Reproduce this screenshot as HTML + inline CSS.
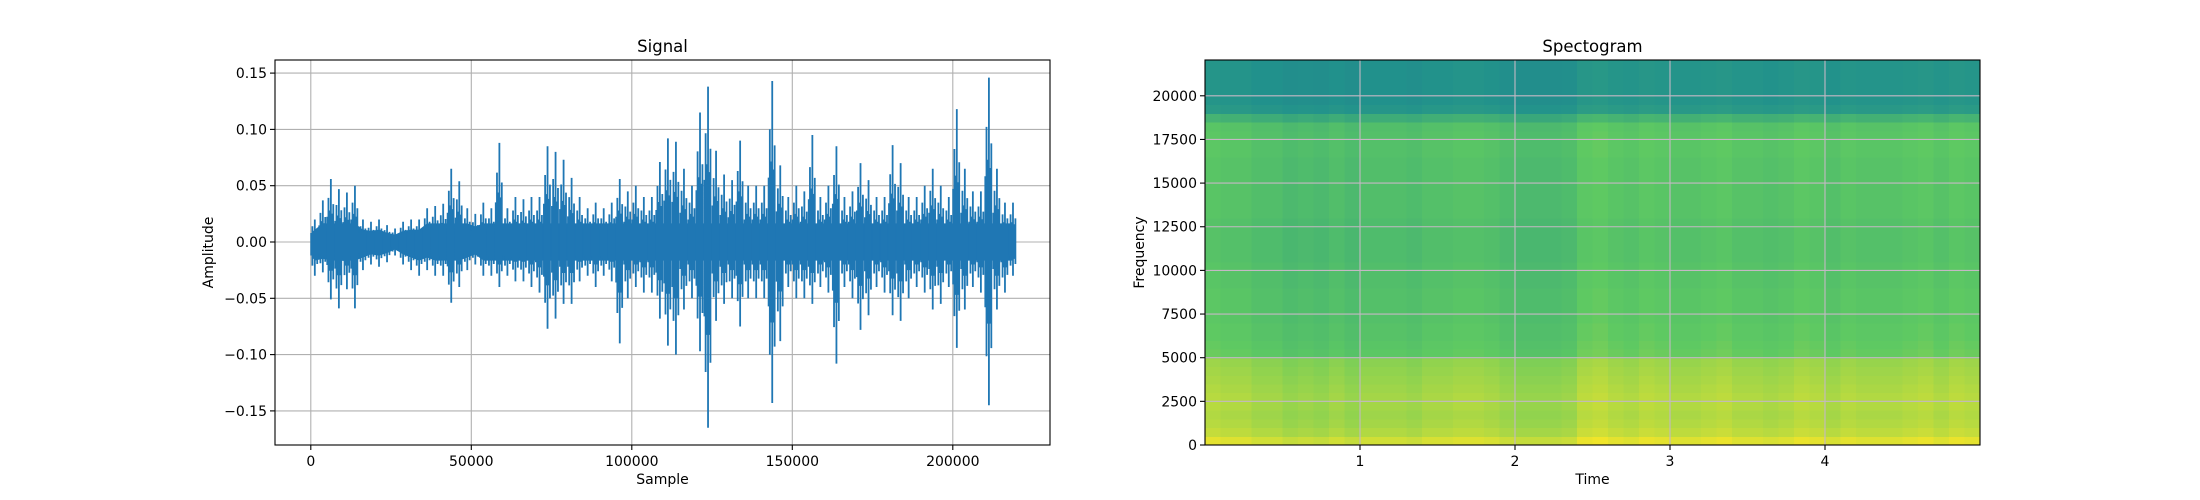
<!DOCTYPE html>
<html><head><meta charset="utf-8"><style>
html,body{margin:0;padding:0;background:#fff}
svg{display:block}
text{font-family:"DejaVu Sans","Liberation Sans",sans-serif;fill:#000}
</style></head><body>
<svg id="fig" width="2200" height="500" viewBox="0 0 2200 500" xmlns="http://www.w3.org/2000/svg">
<rect width="2200" height="500" fill="#fff"/>
<g id="sig"></g>
<g id="spec"></g>
</svg>
<script>
// ---------- Signal data (bins of 2500 samples) ----------
const binSize = 2500;
const sigMax = [0.02,0.037,0.056,0.047,0.044,0.05,0.02,0.018,0.02,0.015,0.012,0.018,0.02,0.02,0.03,0.032,0.034,0.065,0.054,0.03,
0.025,0.035,0.03,0.088,0.03,0.04,0.038,0.04,0.04,0.085,0.08,0.073,0.057,0.04,0.03,0.035,0.03,0.035,0.056,0.045,
0.05,0.04,0.04,0.071,0.092,0.089,0.065,0.05,0.115,0.138,0.081,0.06,0.055,0.09,0.05,0.05,0.05,0.143,0.068,0.04,
0.05,0.045,0.095,0.04,0.05,0.085,0.04,0.045,0.07,0.055,0.04,0.04,0.086,0.07,0.04,0.04,0.05,0.065,0.05,0.04,
0.118,0.065,0.045,0.045,0.146,0.065,0.035,0.035];
const sigMin = [-0.03,-0.027,-0.051,-0.059,-0.042,-0.059,-0.025,-0.02,-0.022,-0.018,-0.012,-0.02,-0.025,-0.03,-0.025,-0.03,-0.03,-0.054,-0.04,-0.025,
-0.02,-0.03,-0.03,-0.04,-0.03,-0.035,-0.035,-0.04,-0.045,-0.077,-0.068,-0.055,-0.055,-0.035,-0.03,-0.04,-0.03,-0.035,-0.09,-0.05,
-0.04,-0.045,-0.045,-0.068,-0.092,-0.1,-0.06,-0.05,-0.097,-0.165,-0.07,-0.055,-0.05,-0.075,-0.05,-0.05,-0.05,-0.143,-0.088,-0.04,
-0.05,-0.05,-0.055,-0.04,-0.045,-0.108,-0.04,-0.05,-0.078,-0.065,-0.04,-0.045,-0.065,-0.07,-0.05,-0.04,-0.045,-0.06,-0.055,-0.04,
-0.094,-0.06,-0.04,-0.045,-0.145,-0.06,-0.045,-0.03];
const sigXTicks = [0,50000,100000,150000,200000];
const sigXLabels = ["0","50000","100000","150000","200000"];
const sigYTicks = [-0.15,-0.10,-0.05,0.00,0.05,0.10,0.15];
const sigYLabels = ["\u22120.15","\u22120.10","\u22120.05","0.00","0.05","0.10","0.15"];

// ---------- Spectrogram data ----------
const specFreqStep = 500;
const specTimeStep = 0.1;
const freqLevel = [0.93,0.88,0.86,0.85,0.86,0.86,0.85,0.84,0.83,0.82,
0.74,0.73,0.72,0.72,0.71,0.71,0.71,0.71,0.7,0.7,0.7,0.69,0.69,0.69,0.69,0.69,0.7,0.7,0.7,0.7,0.7,0.7,0.7,0.71,0.71,0.71,0.7,0.62,
0.52,0.5,0.5,0.5,0.5,0.5,0.5];
const timeLevel = [0.03,0.02,0.02,0.0,0.0,-0.02,-0.01,-0.02,0.0,-0.02,
0.0,0.0,0.0,-0.01,0.01,0.01,0.02,0.02,0.01,-0.01,
-0.02,-0.02,-0.02,-0.01,0.04,0.05,0.03,0.02,0.04,0.03,
0.02,0.02,0.03,0.04,0.02,0.02,0.01,0.02,0.04,0.03,
0.01,0.03,0.02,0.02,0.02,0.03,0.04,0.02,0.04,0.03];
const specXTicks = [1,2,3,4];
const specYTicks = [0,2500,5000,7500,10000,12500,15000,17500,20000];

const NS='http://www.w3.org/2000/svg';
function mk(tag, attrs, parent){const e=document.createElementNS(NS,tag);for(const k in attrs)e.setAttribute(k,attrs[k]);parent.appendChild(e);return e;}

// ===== Signal chart =====
(function(){
const g=document.getElementById('sig');
const L=275,R=1050,T=60,B=445;
const xs=v=>310.8+(v/50000)*160.5;
const ys=v=>242-(v/0.05)*56.3;
sigXTicks.forEach((t,i)=>{
  const l=mk('line',{x1:xs(t),x2:xs(t),y1:T,y2:B,stroke:'#b0b0b0','stroke-width':1.1},g);
  
  
  mk('line',{x1:xs(t),x2:xs(t),y1:B,y2:B+5,stroke:'#000','stroke-width':1.1},g);
  const tx=mk('text',{x:xs(t),y:B+21,'font-size':14,'text-anchor':'middle'},g);
  tx.textContent=sigXLabels[i];
  
  
});
sigYTicks.forEach((t,i)=>{
  const l=mk('line',{x1:L,x2:R,y1:ys(t),y2:ys(t),stroke:'#b0b0b0','stroke-width':1.1},g);
  
  
  mk('line',{x1:L-5,x2:L,y1:ys(t),y2:ys(t),stroke:'#000','stroke-width':1.1},g);
  const tx=mk('text',{x:L-8,y:ys(t)+5,'font-size':14,'text-anchor':'end'},g);
  tx.textContent=sigYLabels[i];
  
  
});
let top=[],bot=[];
sigMax.forEach((v,i)=>{const xm=xs((i+0.5)*binSize);const c=Math.min(v,0.03)*0.55;top.push(xm+','+ys(c));});
sigMin.forEach((v,i)=>{const xm=xs((i+0.5)*binSize);const c=Math.max(v,-0.03)*0.55;bot.push(xm+','+ys(c));});
const core=mk('polygon',{points:top.concat(bot.reverse()).join(' '),fill:'#1f77b4'},g);


let d='';
sigMax.forEach((v,i)=>{
  const x0=xs(i*binSize), w=xs(binSize)-xs(0);
  const mn=sigMin[i];
  d+='M'+(x0+w*0.5)+','+ys(v)+'V'+ys(mn);
  d+='M'+(x0+w*0.2)+','+ys(v*0.7)+'V'+ys(mn*0.7);
  d+='M'+(x0+w*0.8)+','+ys(v*0.6)+'V'+ys(mn*0.65);
  d+='M'+(x0+w*0.35)+','+ys(v*0.5)+'V'+ys(mn*0.5);
  d+='M'+(x0+w*0.65)+','+ys(v*0.45)+'V'+ys(mn*0.5);
  d+='M'+(x0+w*0.05)+','+ys(v*0.4)+'V'+ys(mn*0.4);
});
const p=mk('path',{d:d,stroke:'#1f77b4','stroke-width':1.8,fill:'none'},g);


const fr=mk('rect',{x:L,y:T,width:R-L,height:B-T,fill:'none',stroke:'#000','stroke-width':1.1},g);


const ti=mk('text',{x:(L+R)/2,y:52,'font-size':16.5,'text-anchor':'middle'},g);ti.textContent='Signal';


const xl=mk('text',{x:(L+R)/2,y:484,'font-size':14,'text-anchor':'middle'},g);xl.textContent='Sample';


const yl=mk('text',{x:0,y:0,'font-size':14,'text-anchor':'middle',transform:'translate(213,'+(T+B)/2+') rotate(-90)'},g);yl.textContent='Amplitude';


})();

// ===== Spectrogram =====
(function(){
const g=document.getElementById('spec');
const L=1205,R=1980,T=60,B=445;
const xs=v=>L+(v/5)*(R-L);
const ys=v=>B-(v/22050)*(B-T);
const stops=[[0,[68,1,84]],[0.25,[59,82,139]],[0.5,[33,145,140]],[0.75,[94,201,98]],[1,[253,231,37]]];
function vir(t){t=Math.max(0,Math.min(1,t));for(let i=0;i<stops.length-1;i++){const a=stops[i],b=stops[i+1];if(t<=b[0]){const f=(t-a[0])/(b[0]-a[0]);return 'rgb('+a[1].map((c,k)=>Math.round(c+(b[1][k]-c)*f)).join(',')+')';}}return 'rgb(253,231,37)';}
const cells=mk('g',{'shape-rendering':'crispEdges'},g);


freqLevel.forEach((fv,r)=>{
  const f0=r*specFreqStep, f1=Math.min(22050,(r+1)*specFreqStep);
  timeLevel.forEach((tv,c)=>{
    const t0=c*specTimeStep,t1=(c+1)*specTimeStep;
    const k=fv<0.6?0.6:1;
    const rc=mk('rect',{x:xs(t0),y:ys(f1),width:xs(t1)-xs(t0)+0.6,height:ys(f0)-ys(f1)+0.6,fill:vir(fv+tv*k)},cells);
    
    
  });
});
specXTicks.forEach(t=>{
  const l=mk('line',{x1:xs(t),x2:xs(t),y1:T,y2:B,stroke:'#c4b8c4','stroke-width':1.1},g);
  
  
  mk('line',{x1:xs(t),x2:xs(t),y1:B,y2:B+5,stroke:'#000','stroke-width':1.1},g);
  const tx=mk('text',{x:xs(t),y:B+21,'font-size':14,'text-anchor':'middle'},g);tx.textContent=String(t);
  
  
});
specYTicks.forEach(t=>{
  const l=mk('line',{x1:L,x2:R,y1:ys(t),y2:ys(t),stroke:'#c4b8c4','stroke-width':1.1},g);
  
  
  mk('line',{x1:L-5,x2:L,y1:ys(t),y2:ys(t),stroke:'#000','stroke-width':1.1},g);
  const tx=mk('text',{x:L-8,y:ys(t)+5,'font-size':14,'text-anchor':'end'},g);tx.textContent=String(t);
  
  
});
const fr=mk('rect',{x:L,y:T,width:R-L,height:B-T,fill:'none',stroke:'#000','stroke-width':1.1},g);


const ti=mk('text',{x:(L+R)/2,y:52,'font-size':16.5,'text-anchor':'middle'},g);ti.textContent='Spectogram';


const xl=mk('text',{x:(L+R)/2,y:484,'font-size':14,'text-anchor':'middle'},g);xl.textContent='Time';


const yl=mk('text',{x:0,y:0,'font-size':14,'text-anchor':'middle',transform:'translate(1144,'+(T+B)/2+') rotate(-90)'},g);yl.textContent='Frequency';


})();
</script>
</body></html>
